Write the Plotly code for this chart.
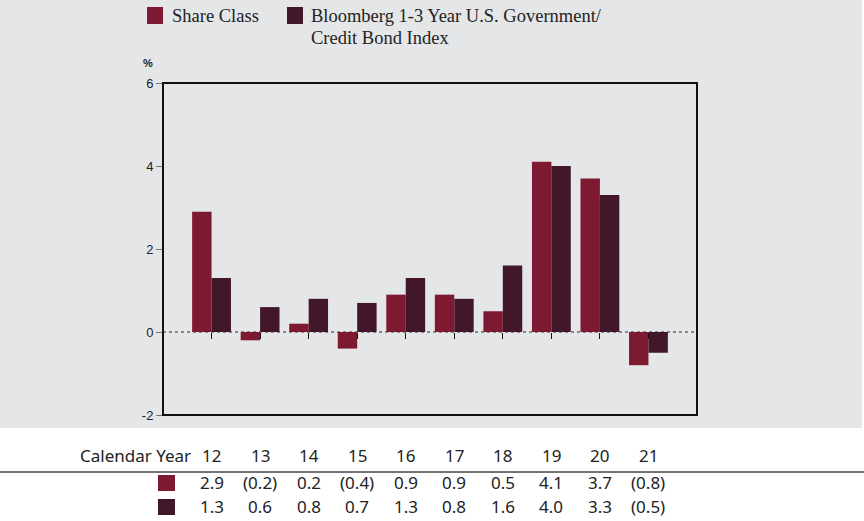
import plotly.graph_objects as go

years = ["12", "13", "14", "15", "16", "17", "18", "19", "20", "21"]
share_class = [2.9, -0.2, 0.2, -0.4, 0.9, 0.9, 0.5, 4.1, 3.7, -0.8]
bench = [1.3, 0.6, 0.8, 0.7, 1.3, 0.8, 1.6, 4.0, 3.3, -0.5]
series_names = ["Share Class", "Bloomberg 1-3 Year U.S. Government/<br>Credit Bond Index"]
colors = ["#7d1a31", "#43172a"]
y_ticks = [-2, 0, 2, 4, 6]
y_tick_text = ["-2", "0", "2", "4", "6"]


def fmt(v):
    return f"({abs(v):.1f})" if v < 0 else f"{v:.1f}"


W, H = 864, 521
L, R, T, B = 163, 697, 83, 415


def px(x):
    return (x - L) / (R - L)


def py(y):
    return (B - y) / (B - T)


fig = go.Figure()
for vals, name, col in zip([share_class, bench], series_names, colors):
    fig.add_trace(go.Bar(x=years, y=vals, name=name, marker=dict(color=col, line=dict(width=0)),
                         showlegend=False, xaxis="x2"))

shapes = []
shapes.append(dict(type="rect", xref="paper", yref="paper", x0=px(0), x1=px(862), y0=py(428), y1=py(0),
                   fillcolor="#e5e6e8", line=dict(width=0), layer="below"))
shapes.append(dict(type="line", xref="paper", yref="y", x0=0, x1=1, y0=0, y1=0,
                   line=dict(color="#8a8a8a", width=2, dash="dot"), layer="below"))
shapes.append(dict(type="rect", xref="paper", yref="paper", x0=0, x1=1, y0=0, y1=1,
                   line=dict(color="#111111", width=2), fillcolor="rgba(0,0,0,0)"))
shapes.append(dict(type="line", xref="paper", yref="paper", x0=px(0), x1=px(864), y0=py(472), y1=py(472),
                   line=dict(color="#444444", width=1.5)))

annotations = []
leg_sq_x = [147, 287]
leg_txt_x = [170, 309]
line_y = [16, 38]
lfont = dict(family="Liberation Serif", size=18.5, color="#222222")
for i, (name, col) in enumerate(zip(series_names, colors)):
    shapes.append(dict(type="rect", xref="paper", yref="paper", x0=px(leg_sq_x[i]), x1=px(leg_sq_x[i] + 16),
                       y0=py(24), y1=py(7), fillcolor=col, line=dict(width=0)))
    for j, part in enumerate(name.split("<br>")):
        annotations.append(dict(xref="paper", yref="paper", x=px(leg_txt_x[i]), y=py(line_y[j]),
                                xanchor="left", yanchor="middle", text=part, showarrow=False, font=lfont))
annotations.append(dict(xref="paper", yref="paper", x=px(148), y=py(63), xanchor="center", yanchor="middle",
                        text="<b>%</b>", showarrow=False,
                        font=dict(family="Liberation Sans", size=11, color="#222222")))

tfont = dict(family="Noto Sans", size=17, color="#222222")
annotations.append(dict(xref="paper", yref="paper", x=px(193), y=py(455), xanchor="right", yanchor="middle",
                        text="Calendar Year", showarrow=False, font=tfont))
row_y = [483, 507]
for i, yr in enumerate(years):
    annotations.append(dict(xref="x2", yref="paper", x=i, y=py(455), xanchor="center", yanchor="middle",
                            text=yr, showarrow=False, font=tfont))
for ry, vals, col in zip(row_y, [share_class, bench], colors):
    shapes.append(dict(type="rect", xref="paper", yref="paper", x0=px(158), x1=px(175),
                       y0=py(ry + 8), y1=py(ry - 8), fillcolor=col, line=dict(width=0)))
    for i, v in enumerate(vals):
        annotations.append(dict(xref="x2", yref="paper", x=i, y=py(ry), xanchor="center", yanchor="middle",
                                text=fmt(v), showarrow=False, font=tfont))

fig.update_layout(
    width=W, height=H,
    margin=dict(l=L, r=W - R, t=T, b=H - B),
    paper_bgcolor="white", plot_bgcolor="rgba(0,0,0,0)",
    barmode="group", bargap=0.2, bargroupgap=0,
    shapes=shapes, annotations=annotations,
    xaxis=dict(visible=False),
    xaxis2=dict(type="category", range=[-1, 10], anchor="free", position=py(332), overlaying="x",
                showline=False, showgrid=False, zeroline=False, showticklabels=False,
                ticks="outside", ticklen=6, tickwidth=1, tickcolor="#111111"),
    yaxis=dict(range=[-2, 6], tickvals=y_ticks, ticktext=y_tick_text, showgrid=False, zeroline=False,
               showline=False, ticks="outside", ticklen=6, tickcolor="#777777",
               tickfont=dict(family="Liberation Sans", size=13, color="#222222")),
)
fig.write_html("out.html", config={"displayModeBar": False},
               post_script="document.body.style.margin='0';")
